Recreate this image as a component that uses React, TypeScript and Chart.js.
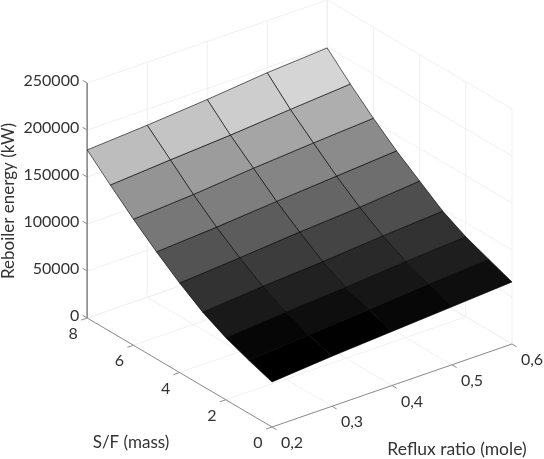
import React, { useEffect, useRef } from "react";
import { Chart, registerables } from "chart.js";

Chart.register(...registerables);

// Data
const refluxTicks = [0.2, 0.3, 0.4, 0.5, 0.6];
const refluxLabels = ["0,2", "0,3", "0,4", "0,5", "0,6"];
const sfTicks = [0, 2, 4, 6, 8];
const sfGrid = [0, 1, 2, 3, 4, 5, 6, 7, 8];
const energyTicks = [0, 50000, 100000, 150000, 200000, 250000];
// Reboiler energy (kW): one row per S/F value, one column per reflux ratio
const energySf0 = [47900, 53200, 57500, 61700, 66000];
const energySf1 = [56400, 61700, 66000, 71300, 75500];
const energySf2 = [66000, 71300, 75500, 80900, 85100];
const energySf3 = [78700, 84100, 88300, 93600, 97900];
const energySf4 = [95200, 100000, 105300, 109600, 115400];
const energySf5 = [113800, 118100, 123400, 128200, 133000];
const energySf6 = [134100, 138300, 144200, 149000, 153200];
const energySf7 = [156000, 160700, 164900, 170200, 175100];
const energySf8 = [178800, 183000, 188300, 194700, 199000];
const energy = [energySf0, energySf1, energySf2, energySf3, energySf4, energySf5, energySf6, energySf7, energySf8];
// Colormap stops: energy (kW) -> gray level
const shadeEnergy = [58500, 63800, 74500, 87200, 104300, 127700, 149000, 170200, 186200];
const shadeGray = [0, 6, 24, 46, 78, 122, 150, 190, 215];

// Axonometric view of the box, in the chart's own x/y scale units
const W = 544;
const H = 459;
const origin = { x: 272, y: 427 };
const perReflux = { x: 600, y: -207.5 };
const perSf = { x: -23.1, y: -13.625 };
const perEnergy = -235 / 250000;

const project = (r: number, sf: number, z: number) => ({
  x: origin.x + (r - 0.2) * perReflux.x + sf * perSf.x,
  y: origin.y + (r - 0.2) * perReflux.y + sf * perSf.y + z * perEnergy,
});

const shade = (z: number) => {
  let g = shadeGray[0];
  if (z >= shadeEnergy[shadeEnergy.length - 1]) g = shadeGray[shadeGray.length - 1];
  else
    for (let i = 0; i < shadeEnergy.length - 1; i++) {
      if (z >= shadeEnergy[i] && z < shadeEnergy[i + 1]) {
        const t = (z - shadeEnergy[i]) / (shadeEnergy[i + 1] - shadeEnergy[i]);
        g = shadeGray[i] + t * (shadeGray[i + 1] - shadeGray[i]);
      }
    }
  const v = Math.round(g);
  return `rgb(${v},${v},${v})`;
};

const lineSet = (pts: { x: number; y: number }[], color: string, width: number, order: number) => ({
  data: pts,
  borderColor: color,
  borderWidth: width,
  pointRadius: 0,
  showLine: true,
  fill: false,
  order,
});

const buildDatasets = () => {
  const sets: any[] = [];
  const grid = "#f0f0f0";
  const axis = "#8c8c8c";
  const rMin = refluxTicks[0];
  const rMax = refluxTicks[refluxTicks.length - 1];
  const zMax = energyTicks[energyTicks.length - 1];
  const sfMax = sfTicks[sfTicks.length - 1];
  // Walls and floor grid
  energyTicks.forEach((z) => {
    sets.push(lineSet([project(rMin, sfMax, z), project(rMax, sfMax, z), project(rMax, 0, z)], grid, 1, 100));
  });
  refluxTicks.forEach((r) => {
    sets.push(lineSet([project(r, 0, 0), project(r, sfMax, 0), project(r, sfMax, zMax)], grid, 1, 100));
  });
  sfTicks.forEach((s) => {
    sets.push(lineSet([project(rMin, s, 0), project(rMax, s, 0), project(rMax, s, zMax)], grid, 1, 100));
  });
  // Axes and tick marks
  sets.push(lineSet([project(rMin, sfMax, zMax), project(rMin, sfMax, 0), project(rMin, 0, 0), project(rMax, 0, 0)], axis, 1, 90));
  energyTicks.forEach((z) => {
    sets.push(lineSet([project(rMin, sfMax, z), project(rMin, sfMax + 0.2, z)], axis, 1, 90));
  });
  sfTicks.forEach((s) => {
    sets.push(lineSet([project(rMin, s, 0), project(rMin - 0.01, s, 0)], axis, 1, 90));
  });
  refluxTicks.forEach((r) => {
    sets.push(lineSet([project(r, 0, 0), project(r, -0.2, 0)], axis, 1, 90));
  });
  // Surface cells
  for (let i = 0; i < sfGrid.length - 1; i++) {
    for (let j = 0; j < refluxTicks.length - 1; j++) {
      const s0 = sfGrid[i];
      const s1 = sfGrid[i + 1];
      const r0 = refluxTicks[j];
      const r1 = refluxTicks[j + 1];
      const mean = (energy[i][j] + energy[i][j + 1] + energy[i + 1][j] + energy[i + 1][j + 1]) / 4;
      const c = shade(mean);
      sets.push({
        data: [
          project(r0, s0, energy[i][j]),
          project(r1, s0, energy[i][j + 1]),
          project(r1, s1, energy[i + 1][j + 1]),
          project(r0, s1, energy[i + 1][j]),
          project(r0, s0, energy[i][j]),
        ],
        borderColor: "rgba(0,0,0,0.6)",
        borderWidth: 1,
        backgroundColor: c,
        pointRadius: 0,
        showLine: true,
        fill: "shape",
        order: 50 - i,
      });
    }
  }
  return sets;
};

const FONT = "Lato, 'Open Sans', sans-serif";
const TEXT = "#333333";

const labelsPlugin = {
  id: "boxLabels",
  afterDatasetsDraw(chart: any) {
    const { ctx, scales } = chart;
    const put = (p: { x: number; y: number }, dx: number, dy: number, text: string, align: CanvasTextAlign) => {
      ctx.textAlign = align;
      ctx.fillText(text, scales.x.getPixelForValue(p.x) + dx, scales.y.getPixelForValue(p.y) + dy);
    };
    const rMin = refluxTicks[0];
    const sfMax = sfTicks[sfTicks.length - 1];
    ctx.save();
    ctx.fillStyle = TEXT;
    ctx.textBaseline = "middle";
    ctx.font = `16px ${FONT}`;
    energyTicks.forEach((z) => put(project(rMin, sfMax, z), -8, -2, String(z), "right"));
    sfTicks.forEach((s) => put(project(rMin, s, 0), -14, 16, String(s), "center"));
    refluxTicks.forEach((r, i) => put(project(r, 0, 0), 20, 16, refluxLabels[i], "center"));
    ctx.font = `17px ${FONT}`;
    put({ x: 131, y: 443 }, 0, 0, "S/F (mass)", "center");
    ctx.font = `17.5px ${FONT}`;
    put({ x: 457, y: 449 }, 0, 0, "Reflux ratio (mole)", "center");
    ctx.font = `17px ${FONT}`;
    ctx.translate(scales.x.getPixelForValue(9), scales.y.getPixelForValue(201));
    ctx.rotate(-Math.PI / 2);
    ctx.textAlign = "center";
    ctx.fillText("Reboiler energy (kW)", 0, 0);
    ctx.restore();
  },
};

export default function App() {
  const ref = useRef<HTMLCanvasElement>(null);
  useEffect(() => {
    document.body.style.margin = "0";
    const chart = new Chart(ref.current as HTMLCanvasElement, {
      type: "scatter",
      data: { datasets: buildDatasets() },
      options: {
        animation: false,
        responsive: false,
        devicePixelRatio: 1,
        layout: { padding: 0 },
        plugins: { legend: { display: false }, tooltip: { enabled: false }, title: { display: false } },
        scales: {
          x: { type: "linear", min: 0, max: W, display: false },
          y: { type: "linear", min: 0, max: H, reverse: true, display: false },
        },
      },
      plugins: [labelsPlugin],
    } as any);
    return () => chart.destroy();
  }, []);
  return (
    <canvas
      ref={ref}
      width={W}
      height={H}
      style={{ display: "block", width: W, height: H, filter: "blur(0.4px)", background: "#fff" }}
    />
  );
}
